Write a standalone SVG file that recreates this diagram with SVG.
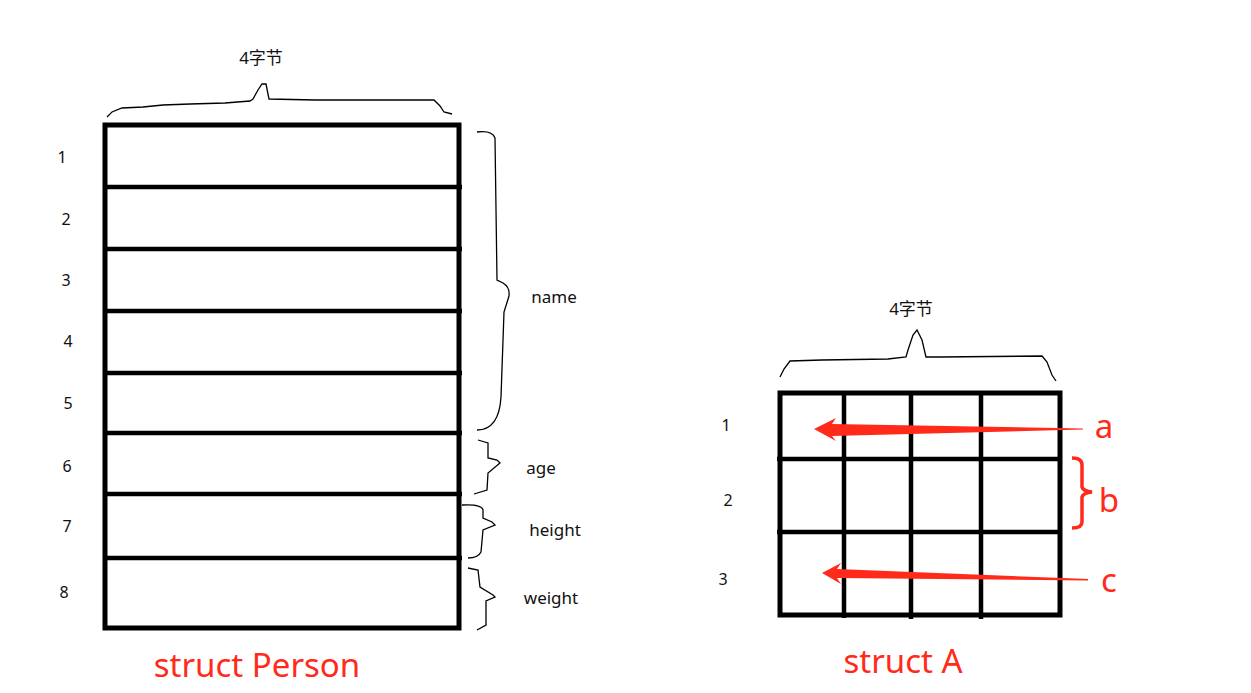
<svg xmlns="http://www.w3.org/2000/svg" width="1251" height="693" viewBox="0 0 1251 693">
<style>
.t{font-family:"Noto Sans","Noto Sans CJK SC",sans-serif;fill:#111;font-size:17px;text-anchor:middle}
.n{font-family:"Noto Sans",sans-serif;fill:#111;font-size:16px;text-anchor:middle}
.r{font-family:"Noto Sans","Noto Sans CJK SC",sans-serif;fill:#ff2a1a;font-size:33px;text-anchor:middle}
.box{fill:#fff;stroke:#000;stroke-width:5}
.ln{stroke:#000;stroke-width:4.5;fill:none}
.br{fill:none;stroke:#000;stroke-width:1.3}
.rb{fill:none;stroke:#ff2a1a;stroke-width:3.5}
</style>
<rect width="1251" height="693" fill="#fff"/>
<g id="person">
<rect class="box" x="105" y="125" width="354" height="503"/>
<path class="ln" d="M105,187H462M105,249H462M105,311H462M105,373H462M105,433H462M105,494H462M105,558H462"/>
<text class="n" x="62" y="163">1</text>
<text class="n" x="66" y="225">2</text>
<text class="n" x="66" y="286">3</text>
<text class="n" x="68" y="347">4</text>
<text class="n" x="68" y="409">5</text>
<text class="n" x="67" y="472">6</text>
<text class="n" x="67" y="532">7</text>
<text class="n" x="64" y="598">8</text>
<path class="br" d="M107,117 L112,112 L122,108 L143,107 L163,105 L190,104 L225,103 L250,101 L253,99 L258,90 L262,84 L266,84 L269,99 L315,100 L434,100 L440,106 L444,112 L452,114"/>
<text class="t" x="261" y="64">4字节</text>
<text class="r" x="257" y="677">struct Person</text>
</g>
<g id="name-brace">
<path class="br" d="M477,132 Q492,130 495,138 L497,280 L503,283 Q510,287 509,296 L504,312 L501,397 Q499,430 477,430"/>
<text class="t" x="554" y="303">name</text>
</g>
<g id="age-brace">
<path class="br" d="M478,440 L488,443 L488,458 L497,460 L500,463 L488,473 L487,490 L474,494"/>
<text class="t" x="541" y="474">age</text>
</g>
<g id="height-brace">
<path class="br" d="M462,505 Q482,504 483,510 L483,518 L492,522 L495,525 L483,530 L481,552 Q478,558 468,558"/>
<text class="t" x="555" y="536">height</text>
</g>
<g id="weight-brace">
<path class="br" d="M468,568 L478,570 L480,587 L493,595 L495,597 L486,601 L486,625 L477,630"/>
<text class="t" x="551" y="604">weight</text>
</g>
<g id="structA">
<rect class="box" x="780" y="393" width="280" height="222" stroke-width="4.5"/>
<path class="ln" d="M844,393V618M911,393V619M981,393V619M777,459H1060M777,532H1060"/>
<text class="n" x="726" y="431">1</text>
<text class="n" x="728" y="506">2</text>
<text class="n" x="723" y="585">3</text>
<path class="br" d="M780,377 L784,369 L790,361 L822,360 L888,359 L906,357 L908,350 L913,335 L917,330 L922,340 L926,357 L940,357 L1042,356 L1047,362 L1052,375 L1056,381"/>
<text class="t" x="911" y="315">4字节</text>
<text class="r" x="903" y="673">struct A</text>
</g>
<g id="connectors">
<path d="M814,429 L836,418 L832,424 L1083,428.5 L1083,429.5 L832,436 L836,441 Z" fill="#ff2a1a"/>
<path d="M822,573 L841,563 L837,569 L1088,579 L1088,580.5 L837,578 L841,584 Z" fill="#ff2a1a"/>
<path class="rb" d="M1072,458 Q1082,458 1082,465 L1082,487 Q1083,491 1092,492 Q1083,493 1082,497 L1082,522 Q1082,528 1072,528"/>
<text class="r" x="1104" y="438">a</text>
<text class="r" x="1109" y="512">b</text>
<text class="r" x="1109" y="592">c</text>
</g>
</svg>
